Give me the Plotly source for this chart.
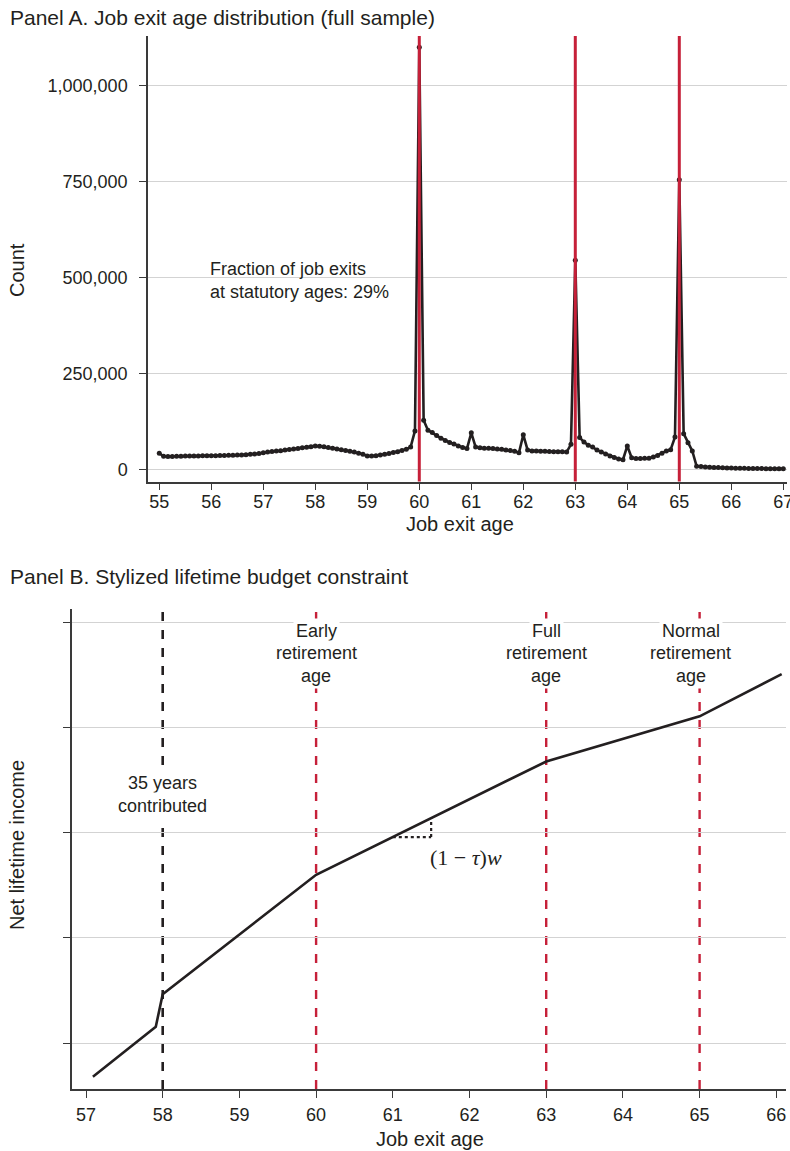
import numpy as np
import plotly.graph_objects as go

# ---------------- Panel A data (monthly job exit ages 55..67) ----------------
ages_a = [55 + k / 12 for k in range(145)]
counts_55 = [42000, 34000, 33500, 33500, 34000, 34000, 34500, 34500, 35000, 35000, 35500, 35500]
counts_56 = [35500, 35500, 36000, 36000, 36500, 36500, 37000, 37500, 38000, 39000, 40000, 41000]
counts_57 = [43000, 45000, 46500, 47500, 48500, 50000, 51500, 53000, 54500, 56000, 57500, 59000]
counts_58 = [61000, 60000, 58500, 57000, 55000, 53000, 51000, 49000, 47000, 45000, 42000, 39000]
counts_59 = [35000, 34500, 35500, 37000, 39000, 41000, 43500, 46000, 49000, 52000, 58000, 100000]
counts_60 = [1100000, 128000, 102000, 96000, 88000, 81000, 75000, 70000, 66000, 61000, 57000, 54000]
counts_61 = [95000, 58000, 56000, 55000, 55000, 54000, 53000, 52000, 50000, 49000, 47000, 43000]
counts_62 = [90000, 50000, 48000, 48000, 47000, 47000, 46500, 46000, 46000, 45500, 45000, 65000]
counts_63 = [545000, 83000, 71000, 63000, 58000, 50000, 45000, 40000, 35000, 31000, 27000, 25000]
counts_64 = [61000, 30000, 28000, 28000, 28500, 29000, 32000, 36000, 42000, 48000, 51000, 84000]
counts_65 = [755000, 93000, 69000, 48000, 8000, 7000, 6000, 5500, 5000, 4500, 4000, 3500]
counts_66 = [3200, 3000, 2800, 2600, 2400, 2200, 2000, 1800, 1600, 1500, 1400, 1300]
counts_67 = [1200]
counts_a = (counts_55 + counts_56 + counts_57 + counts_58 + counts_59 + counts_60 +
            counts_61 + counts_62 + counts_63 + counts_64 + counts_65 + counts_66 + counts_67)
statutory_ages = [60, 63, 65]
ytick_vals_a = [0, 250000, 500000, 750000, 1000000]
ytick_text_a = ["0", "250,000", "500,000", "750,000", "1,000,000"]
xtick_vals_a = list(range(55, 68))

# ---------------- Panel B data (stylized budget constraint) ----------------
ages_b = [57.09, 57.91, 58.0, 60.0, 63.0, 65.0, 66.07]
income_b = [0.683, 1.158, 1.465, 2.6, 3.676, 4.105, 4.505]
contrib_age = 58
ret_ages_b = [60, 63, 65]
ret_labels_b = [["Early", "retirement", "age"], ["Full", "retirement", "age"],
                ["Normal", "retirement", "age"]]
xtick_vals_b = list(range(57, 67))
ytick_vals_b = [1, 2, 3, 4, 5]
slope_x = [61.0, 61.5]

RED = "#c62039"
INK = "#231f20"
GRID = "#d3d3d3"
FONT = "Liberation Sans, Arial, sans-serif"
H = 1151
W = 790

fig = go.Figure()

fig.add_trace(go.Scatter(x=ages_a, y=counts_a, mode="lines+markers",
                         line=dict(color=INK, width=2.6),
                         marker=dict(color=INK, size=5),
                         xaxis="x", yaxis="y", showlegend=False))

fig.add_trace(go.Scatter(x=ages_b, y=income_b, mode="lines",
                         line=dict(color=INK, width=2.6),
                         xaxis="x2", yaxis="y2", showlegend=False))

def py(pix):
    return 1 - pix / H

axis_common = dict(showline=True, linecolor="#3a3a3a", linewidth=1.5, ticks="outside",
                   ticklen=7, tickwidth=1.3, tickcolor="#3a3a3a", zeroline=False,
                   ticklabeloverflow="allow", automargin=False,
                   tickfont=dict(family=FONT, size=18, color=INK))

fig.update_layout(
    width=W, height=H, margin=dict(l=0, r=0, t=0, b=0, autoexpand=False),
    paper_bgcolor="white", plot_bgcolor="white",
    xaxis=dict(domain=[148 / W, 787 / W], range=[54.783, 67.071], tickvals=xtick_vals_a,
               anchor="y", showgrid=False, ticklabelstandoff=-4, **axis_common),
    yaxis=dict(domain=[py(481.5), py(36)], range=[-31800, 1129600], tickvals=ytick_vals_a,
               ticktext=ytick_text_a, anchor="x", showgrid=True, gridcolor=GRID, gridwidth=1.2,
               ticklabelstandoff=8, **axis_common),
    xaxis2=dict(domain=[72 / W, 786 / W], range=[56.8175, 66.1265], tickvals=xtick_vals_b,
                anchor="y2", showgrid=False, ticklabelstandoff=2, **axis_common),
    yaxis2=dict(domain=[py(1089), py(609)], range=[0.566, 5.124], tickvals=ytick_vals_b,
                showticklabels=False, anchor="x2", showgrid=True, gridcolor=GRID, gridwidth=1.2,
                **axis_common),
)

shapes = []
for a in statutory_ages:
    shapes.append(dict(type="line", xref="x", yref="y domain", x0=a, x1=a, y0=0, y1=1,
                       line=dict(color=RED, width=3), layer="above"))
shapes.append(dict(type="line", xref="x2", yref="y2 domain", x0=contrib_age, x1=contrib_age,
                   y0=0, y1=1, line=dict(color=INK, width=2.6, dash="dash"), layer="below"))
for a in ret_ages_b:
    shapes.append(dict(type="line", xref="x2", yref="y2 domain", x0=a, x1=a, y0=0, y1=1,
                       line=dict(color=RED, width=2.4, dash="dash"), layer="below"))
# slope illustration
sy0 = float(np.interp(slope_x[0], ages_b, income_b))
sy1 = float(np.interp(slope_x[1], ages_b, income_b))
shapes.append(dict(type="line", xref="x2", yref="y2", x0=slope_x[0], x1=slope_x[1], y0=sy0, y1=sy0,
                   line=dict(color=INK, width=2.2, dash="dot")))
shapes.append(dict(type="line", xref="x2", yref="y2", x0=slope_x[1], x1=slope_x[1], y0=sy0, y1=sy1,
                   line=dict(color=INK, width=2.2, dash="dot")))
fig.update_layout(shapes=shapes)

ann = []
# Panel titles
ann.append(dict(text="Panel A. Job exit age distribution (full sample)",
                xref="paper", yref="paper", x=8 / W, y=py(18), xanchor="left", yanchor="middle",
                showarrow=False, font=dict(family=FONT, size=21, color=INK)))
ann.append(dict(text="Panel B. Stylized lifetime budget constraint",
                xref="paper", yref="paper", x=8 / W, y=py(576), xanchor="left", yanchor="middle",
                showarrow=False, font=dict(family=FONT, size=21, color=INK)))
# Axis titles
ann.append(dict(text="Count", xref="paper", yref="paper", x=17 / W, y=py(270), textangle=-90,
                xanchor="center", yanchor="middle", showarrow=False,
                font=dict(family=FONT, size=20, color=INK)))
ann.append(dict(text="Job exit age", xref="paper", yref="paper", x=460 / W, y=py(524),
                xanchor="center", yanchor="middle", showarrow=False,
                font=dict(family=FONT, size=20, color=INK)))
ann.append(dict(text="Net lifetime income", xref="paper", yref="paper", x=17 / W, y=py(845),
                textangle=-90, xanchor="center", yanchor="middle", showarrow=False,
                font=dict(family=FONT, size=20, color=INK)))
ann.append(dict(text="Job exit age", xref="paper", yref="paper", x=430 / W, y=py(1139),
                xanchor="center", yanchor="middle", showarrow=False,
                font=dict(family=FONT, size=20, color=INK)))
# Panel A note
ann.append(dict(text="Fraction of job exits<br>at statutory ages: 29%", xref="paper", yref="paper",
                x=208 / W, y=py(281), xanchor="left", yanchor="middle", align="left",
                showarrow=False, font=dict(family=FONT, size=18, color=INK)))
# Panel B labels (one white box per line)
label_y = [py(631), py(653), py(676)]
xshifts = [0, 0, -9]
for a, lines, xs in zip(ret_ages_b, ret_labels_b, xshifts):
    for ln, yy in zip(lines, label_y):
        ann.append(dict(text=ln, xref="x2", yref="paper", x=a, y=yy, xanchor="center",
                        yanchor="middle", xshift=xs, showarrow=False, bgcolor="white", borderpad=2,
                        font=dict(family=FONT, size=18, color=INK)))
for ln, yy in zip(["35 years", "contributed"], [py(783), py(806)]):
    ann.append(dict(text=ln, xref="x2", yref="paper", x=contrib_age, y=yy, xanchor="center",
                    yanchor="middle", showarrow=False, bgcolor="white", borderpad=3,
                    font=dict(family=FONT, size=18, color=INK)))
ann.append(dict(text="(1 \u2212 <i>\u03c4</i>)<i>w</i>", xref="x2", yref="paper", x=61.95, y=py(857),
                xanchor="center", yanchor="middle", showarrow=False,
                font=dict(family="Liberation Serif, Times New Roman, serif", size=22, color=INK)))
fig.update_layout(annotations=ann)

fig.write_html("out.html")
